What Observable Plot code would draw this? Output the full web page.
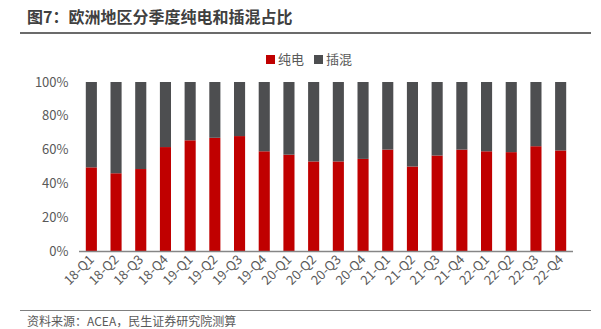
<!DOCTYPE html>
<html>
<head>
<meta charset="utf-8">
<script src="https://cdn.jsdelivr.net/npm/d3@7"></script>
<script src="https://cdn.jsdelivr.net/npm/@observablehq/plot@0.6"></script>
<style>
  html, body { margin: 0; padding: 0; background: #fff; }
  #wrap { position: relative; width: 601px; height: 329px; overflow: hidden; font-family: "Noto Sans CJK SC", "Noto Sans", sans-serif; }
  #title { position: absolute; left: 27px; top: 5px; font-size: 16px; line-height: 22px; font-weight: bold; color: #404040; }
  #tline { position: absolute; left: 20px; top: 32px; width: 571px; height: 2px; background: #6b6b6b; }
  #legend { position: absolute; left: 266px; top: 50px; font-size: 13px; line-height: 18px; color: #595959; display: flex; align-items: center; }
  #legend .sw { display: inline-block; width: 9px; height: 9px; margin-right: 3px; }
  #legend .item { display: flex; align-items: center; margin-right: 10px; }
  #chart { position: absolute; left: 0; top: 70px; width: 601px; }
  #bline { position: absolute; left: 20px; top: 310px; width: 571px; height: 1px; background: #7f7f7f; }
  #caption { position: absolute; left: 27px; top: 314px; font-size: 12px; line-height: 14px; color: #595959; }
</style>
</head>
<body>
<div id="wrap">
  <div id="title">图7：欧洲地区分季度纯电和插混占比</div>
  <div id="tline"></div>
  <div id="legend"></div>
  <div id="chart"></div>
  <div id="bline"></div>
  <div id="caption">资料来源：ACEA，民生证券研究院测算</div>
</div>
<script>
const quarters = ["18-Q1","18-Q2","18-Q3","18-Q4","19-Q1","19-Q2","19-Q3","19-Q4","20-Q1","20-Q2","20-Q3","20-Q4","21-Q1","21-Q2","21-Q3","21-Q4","22-Q1","22-Q2","22-Q3","22-Q4"];
const bev  = [49.5, 46.0, 48.5, 61.5, 65.5, 67.0, 68.0, 59.0, 57.0, 53.0, 53.0, 54.5, 60.0, 50.0, 56.5, 60.0, 59.0, 58.5, 62.0, 59.5];
const phev = [50.5, 54.0, 51.5, 38.5, 34.5, 33.0, 32.0, 41.0, 43.0, 47.0, 47.0, 45.5, 40.0, 50.0, 43.5, 40.0, 41.0, 41.5, 38.0, 40.5];
const seriesNames = ["纯电", "插混"];
const seriesColors = ["#C00000", "#4D4E50"];
const yTicks = [0, 0.2, 0.4, 0.6, 0.8, 1.0];

const rows = [];
quarters.forEach((q, i) => {
  rows.push({q, type: seriesNames[0], v: bev[i] / 100});
  rows.push({q, type: seriesNames[1], v: phev[i] / 100});
});

const legend = document.getElementById("legend");
seriesNames.forEach((n, i) => {
  const it = document.createElement("span");
  it.className = "item";
  it.innerHTML = `<span class="sw" style="background:${seriesColors[i]}"></span>${n}`;
  legend.appendChild(it);
});

const plot = Plot.plot({
  width: 601,
  height: 240,
  marginLeft: 79,
  marginRight: 28,
  marginTop: 12,
  marginBottom: 59,
  style: {fontFamily: "'Noto Sans CJK SC', 'Noto Sans', sans-serif", color: "#595959", background: "transparent"},
  x: {domain: quarters, padding: 0, round: false, label: null},
  y: {domain: [0, 1], label: null},
  color: {domain: seriesNames, range: seriesColors},
  marks: [
    Plot.barY(rows, {x: "q", y: "v", fill: "type", order: seriesNames, insetLeft: 6.8, insetRight: 6.8}),
    Plot.axisY({ticks: yTicks, tickFormat: d3.format(".0%"), tickSize: 0, tickPadding: 11, fontSize: 13, fill: "#595959", label: null}),
    Plot.ruleX([0], {frameAnchor: "left", stroke: "#868686", strokeWidth: 1.5}),
    Plot.ruleY([0], {stroke: "#868686", strokeWidth: 1.5}),
    Plot.axisX({tickSize: 0, tickRotate: -45, tickPadding: 6, fontSize: 13, fill: "#595959", label: null})
  ]
});
document.getElementById("chart").appendChild(plot);
</script>
</body>
</html>
